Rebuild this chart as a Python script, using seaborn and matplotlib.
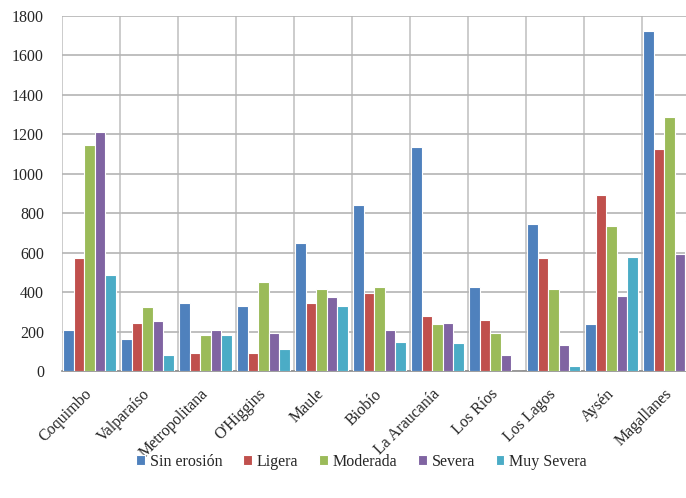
import pandas as pd
import numpy as np
import matplotlib
matplotlib.use('Agg')
import matplotlib.pyplot as plt
import seaborn as sns

# DATA
regions = ['Coquimbo', 'Valparaíso', 'Metropolitana', "O'Higgins", 'Maule', 'Biobío',
           'La Araucanía', 'Los Ríos', 'Los Lagos', 'Aysén', 'Magallanes']
classes = ['Sin erosión', 'Ligera', 'Moderada', 'Severa', 'Muy Severa']

sin_erosion = [210, 160, 347, 330, 649, 841, 1136, 425, 746, 236, 1724]
ligera = [575, 244, 90, 90, 347, 393, 278, 261, 573, 893, 1127]
moderada = [1144, 322, 183, 449, 415, 425, 236, 195, 415, 736, 1290]
severa = [1212, 252, 208, 195, 375, 208, 244, 80, 131, 381, 593]
muy_severa = [486, 80, 183, 114, 330, 149, 141, 0, 27, 580, 763]

colors = ['#4F81BD', '#C0504D', '#9BBB59', '#8064A2', '#4BACC6']

df = pd.DataFrame({'Región': regions, 'Sin erosión': sin_erosion, 'Ligera': ligera,
                   'Moderada': moderada, 'Severa': severa, 'Muy Severa': muy_severa})
long_df = df.melt(id_vars='Región', var_name='Clase', value_name='Superficie')

sns.set_style('white')
plt.rcParams['font.family'] = ['Liberation Serif', 'DejaVu Serif']

fig = plt.figure(figsize=(6.86, 4.98), dpi=100)
# axes runs past the right edge of the figure, like the cropped original
ax = fig.add_axes([62 / 686, 127 / 498, 638 / 686, 355 / 498])

sns.barplot(data=long_df, x='Región', y='Superficie', hue='Clase', hue_order=classes,
            palette=colors, width=0.9, edgecolor='white', linewidth=0.8,
            saturation=1, ax=ax, zorder=3)

# groups sit a little to the left inside each category cell
x0 = -0.475
ax.set_ylim(0, 1800)
ax.set_xlim(x0, x0 + len(regions))
ax.set_yticks(np.arange(0, 1801, 200))
ax.set_xticks(np.arange(x0, x0 + len(regions) + 0.1, 1), minor=True)
ax.grid(axis='y', color='#b4b4b4', linewidth=1.2, zorder=0)
ax.grid(axis='x', which='minor', color='#c4c4c4', linewidth=1.2, zorder=0)
ax.grid(axis='x', which='major', visible=False)
ax.tick_params(axis='both', which='both', length=0)
ax.tick_params(axis='y', labelsize=11.5, pad=13)
ax.set_xticks(range(len(regions)))
ax.set_xticklabels(regions, rotation=45, ha='right', va='center',
                   rotation_mode='anchor', fontsize=11.5)
ax.tick_params(axis='x', pad=15)
ax.set_xlabel('')
ax.set_ylabel('')
for side in ['top', 'right', 'left']:
    ax.spines[side].set_visible(False)
ax.spines['bottom'].set_color('#8c8c8c')
ax.spines['bottom'].set_linewidth(1.2)

handles, labels = ax.get_legend_handles_labels()
ax.legend_.remove()
fig.legend(handles, labels, loc='center', bbox_to_anchor=(0.527, 0.073), ncol=5,
           frameon=False, fontsize=11.5, handlelength=0.55, handleheight=0.55,
           handletextpad=0.3, columnspacing=1.3)

fig.savefig('out.png', dpi=100)
